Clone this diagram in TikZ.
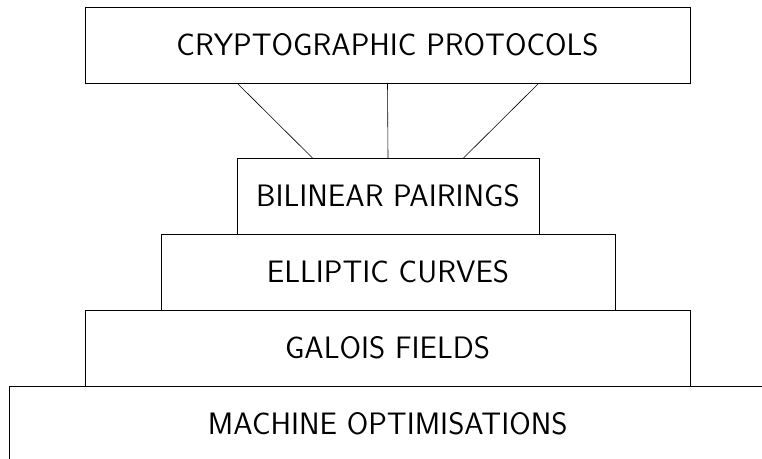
\documentclass[tikz,border=0pt]{standalone}
\usepackage{fontspec}
\usepackage{tikz}
\usetikzlibrary{calc}

\tikzset{
  layer/.style={draw,semithick,rectangle,inner sep=0pt,outer sep=0pt,
    minimum height=76pt,font=\sffamily\fontsize{31}{37}\selectfont}
}

\begin{document}
\begin{tikzpicture}[x=1pt,y=1pt]
\useasboundingbox (0,0) rectangle (762,458);

\node[layer,minimum width=605pt](proto) at (387.5,413){CRYPTOGRAPHIC PROTOCOLS};
\node[layer,minimum width=302pt](pair) at (388,262){BILINEAR PAIRINGS};
\node[layer,minimum width=454pt](curve) at (388,186){ELLIPTIC CURVES};
\node[layer,minimum width=605pt](field) at (387.5,110){GALOIS FIELDS};
\node[layer,minimum width=756.5pt](mach) at (387.75,34){MACHINE OPTIMISATIONS};

% legs from the protocols down to the pairings
\coordinate (pl) at ($(pair.north west)!0.25!(pair.north east)$);
\coordinate (pr) at ($(pair.north west)!0.75!(pair.north east)$);
\draw[semithick](proto.south -| pair.west)--(pl);
\draw[semithick](proto.south)--(pair.north);
\draw[semithick](proto.south -| pair.east)--(pr);
\end{tikzpicture}
\end{document}
